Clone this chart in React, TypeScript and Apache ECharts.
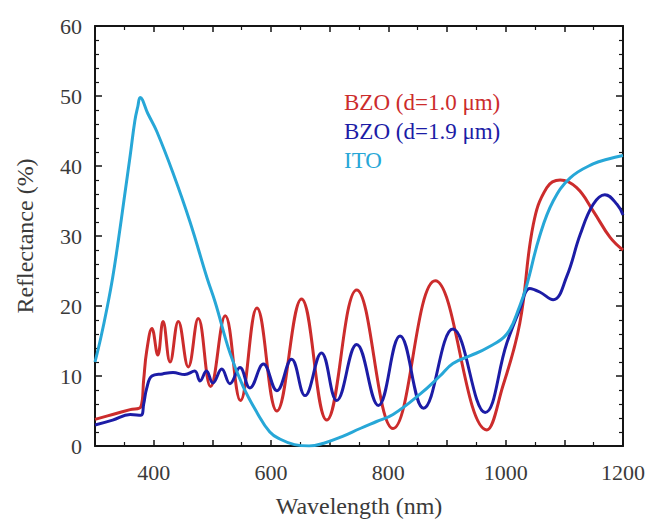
import React, { useEffect, useRef } from "react";
import * as echarts from "echarts";

// Wavelength (nm) / reflectance (%)
const bzo10Wavelength = [300, 330, 360, 378, 383, 388, 397, 407, 416, 428, 442, 459, 476, 497, 522, 548, 576, 610, 652, 695, 746, 808, 880, 968, 995, 1024, 1047, 1070, 1093, 1121, 1149, 1178, 1200];
const bzo10Reflectance = [3.8, 4.5, 5.2, 5.6, 9.5, 13.5, 16.8, 13, 17.8, 12, 17.8, 11.3, 18.2, 8.5, 18.6, 6.5, 19.7, 5, 21, 3.7, 22.3, 2.5, 23.6, 2.3, 8.5, 17.5, 31.6, 36.9, 38, 36.9, 33.6, 29.8, 28];

const bzo19Wavelength = [300, 330, 360, 378, 383, 388, 397, 415, 433, 453, 470, 479, 490, 501, 516, 530, 547, 564, 587, 610, 635, 658, 686, 712, 746, 783, 820, 860, 910, 965, 1002, 1024, 1041, 1058, 1081, 1104, 1127, 1149, 1169, 1190, 1200];
const bzo19Reflectance = [3.0, 3.7, 4.5, 4.4, 6, 8.2, 10, 10.3, 10.5, 10.2, 10.7, 9.3, 10.7, 9.0, 11, 8.9, 11.2, 8.3, 11.7, 7.9, 12.4, 7.2, 13.3, 6.5, 14.5, 5.8, 15.7, 5.4, 16.7, 4.8, 14.7, 19.5, 22.5, 22, 20.9, 24.2, 30.2, 34.5, 35.9, 34.5, 33];

const itoWavelength = [300, 310, 320, 330, 340, 350, 360, 368, 373, 377, 390, 405, 433, 462, 491, 505, 530, 552, 576, 598, 615, 640, 665, 690, 720, 752, 780, 808, 854, 888, 910, 940, 968, 1002, 1024, 1036, 1058, 1081, 1110, 1149, 1175, 1200];
const itoReflectance = [12, 15.5, 19.5, 24, 29.5, 35.5, 41.5, 46.5, 48.5, 49.8, 47.5, 45, 39, 32, 24, 20.5, 13.3, 8.6, 4.8, 2.0, 1.0, 0.2, 0, 0.4, 1.3, 2.5, 3.5, 4.5, 7.4, 10, 11.8, 12.9, 14, 16, 20, 23, 30, 35, 38.3, 40.3, 41, 41.5];

const seriesNames = ["BZO (d=1.0 μm)", "BZO (d=1.9 μm)", "ITO"];
const seriesColors = ["#cc2c2c", "#1c1ca6", "#27a7d7"];
const xTickLabels = [400, 600, 800, 1000, 1200];
const yTickLabels = [0, 10, 20, 30, 40, 50, 60];

const FONT = "Liberation Serif";
const AXIS = "#151515";
const TEXT = "#3a3a3a";

function zip(xs: number[], ys: number[]) {
  return xs.map((x, i) => [x, ys[i]]);
}

export default function App() {
  const ref = useRef<HTMLDivElement>(null);
  useEffect(() => {
    if (!ref.current) return;
    const chart = echarts.init(ref.current, null, { renderer: "svg" });
    const xBase = {
      type: "value",
      min: 300,
      max: 1200,
      interval: 100,
      splitLine: { show: false },
      axisLine: { show: true, onZero: false, lineStyle: { color: AXIS, width: 2 } },
      axisTick: { show: true, inside: true, length: 6, lineStyle: { color: AXIS, width: 1.5 } },
      minorTick: { show: true, splitNumber: 2, length: 4, lineStyle: { color: AXIS, width: 1.2 } },
    };
    const yBase = {
      type: "value",
      min: 0,
      max: 60,
      interval: 10,
      splitLine: { show: false },
      axisLine: { show: true, onZero: false, lineStyle: { color: AXIS, width: 2 } },
      axisTick: { show: true, inside: true, length: 7, lineStyle: { color: AXIS, width: 1.5 } },
      minorTick: { show: true, splitNumber: 5, length: 4, lineStyle: { color: AXIS, width: 1.2 } },
    };
    const data = [
      zip(bzo10Wavelength, bzo10Reflectance),
      zip(bzo19Wavelength, bzo19Reflectance),
      zip(itoWavelength, itoReflectance),
    ];
    chart.setOption({
      animation: false,
      backgroundColor: "#ffffff",
      textStyle: { fontFamily: FONT },
      grid: { left: 95, right: 26, top: 26, bottom: 72, containLabel: false },
      legend: {
        orient: "vertical",
        left: 334,
        top: 86,
        icon: "none",
        itemWidth: 0,
        itemHeight: 0,
        itemGap: 6,
        selectedMode: false,
        textStyle: { fontFamily: FONT, fontSize: 23 },
        data: seriesNames.map((n, i) => ({ name: n, textStyle: { color: seriesColors[i], fontFamily: FONT, fontSize: 23 } })),
      },
      xAxis: [
        {
          ...xBase,
          position: "bottom",
          name: "Wavelength (nm)",
          nameLocation: "middle",
          nameGap: 48,
          nameTextStyle: { fontFamily: FONT, fontSize: 24, color: TEXT },
          axisLabel: {
            margin: 15,
            fontFamily: FONT,
            fontSize: 22,
            color: TEXT,
            formatter: (v: number) => (xTickLabels.includes(v) ? String(v) : ""),
          },
        },
        { ...xBase, position: "top", axisLabel: { show: false } },
      ],
      yAxis: [
        {
          ...yBase,
          position: "left",
          name: "Reflectance (%)",
          nameLocation: "middle",
          nameGap: 58,
          nameRotate: 90,
          nameTextStyle: { fontFamily: FONT, fontSize: 24, color: TEXT },
          axisLabel: {
            margin: 13,
            fontFamily: FONT,
            fontSize: 22,
            color: TEXT,
            formatter: (v: number) => (yTickLabels.includes(v) ? String(v) : ""),
          },
        },
        { ...yBase, position: "right", axisLabel: { show: false } },
      ],
      series: seriesNames.map((n, i) => ({
        name: n,
        type: "line",
        xAxisIndex: 0,
        yAxisIndex: 0,
        data: data[i],
        showSymbol: false,
        smooth: 0.42,
        clip: true,
        lineStyle: { color: seriesColors[i], width: 3 },
        itemStyle: { color: seriesColors[i] },
        z: 2 + i,
      })),
    });
    return () => chart.dispose();
  }, []);
  return (
    <div
      ref={ref}
      style={{ position: "fixed", left: 0, top: 0, width: 649, height: 523, background: "#fff" }}
    />
  );
}
